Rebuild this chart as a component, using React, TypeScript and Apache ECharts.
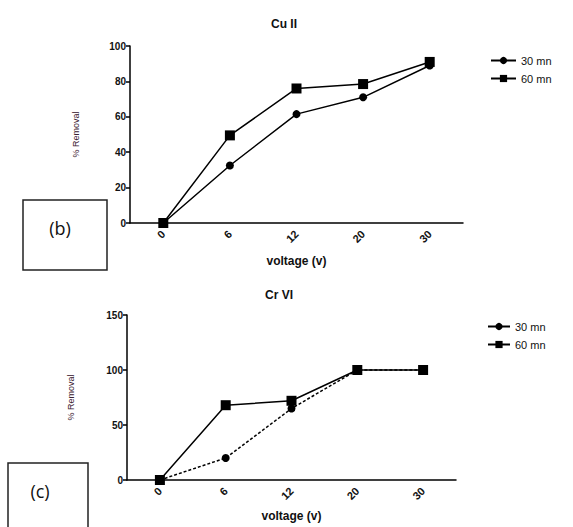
import React, { useEffect, useRef } from "react";
import * as echarts from "echarts";

const categories = ["0", "6", "12", "20", "30"];
const cu30 = [0, 32.5, 61.5, 71, 89];
const cu60 = [0, 49.5, 76, 78.5, 91];
const cr30 = [0, 20, 65, 100, 100];
const cr60 = [0, 68, 72, 100, 100];
const cuTicks = [0, 20, 40, 60, 80, 100];
const crTicks = [0, 50, 100, 150];
const seriesNames = ["30 mn", "60 mn"];

const FONT = "Liberation Sans, Arial, sans-serif";

export default function App() {
  const ref = useRef<HTMLDivElement>(null);
  useEffect(() => {
    if (!ref.current) return;
    const chart = echarts.init(ref.current, undefined, { renderer: "svg" });
    const xAxisBase = (gridIndex: number, nameGap: number) => ({
      type: "category",
      gridIndex,
      data: categories,
      boundaryGap: true,
      name: "voltage (v)",
      nameLocation: "middle",
      nameGap,
      nameTextStyle: { fontFamily: FONT, fontWeight: "bold", fontSize: 12, color: "#111" },
      axisLine: { lineStyle: { color: "#000", width: 1.5 } },
      axisTick: { alignWithLabel: true, length: 5, lineStyle: { color: "#000", width: 1.5 } },
      axisLabel: { rotate: 45, margin: 9, fontFamily: FONT, fontWeight: "bold", fontSize: 11, color: "#111" },
      splitLine: { show: false },
    });
    const yAxisBase = (gridIndex: number, ticks: number[], nameGap: number) => ({
      type: "value",
      gridIndex,
      min: ticks[0],
      max: ticks[ticks.length - 1],
      interval: ticks[1] - ticks[0],
      name: "% Removal",
      nameLocation: "middle",
      nameGap,
      nameRotate: 90,
      nameTextStyle: { fontFamily: FONT, fontSize: 9, color: "#3a2030" },
      axisLine: { show: true, lineStyle: { color: "#000", width: 1.5 } },
      axisTick: { show: true, length: 4, lineStyle: { color: "#000", width: 1.5 } },
      axisLabel: { margin: 4, fontFamily: FONT, fontWeight: "bold", fontSize: 10, color: "#111" },
      splitLine: { show: false },
    });
    const line = (name: string, data: number[], idx: number, symbol: string, size: number, dashed = false) => ({
      type: "line",
      name,
      xAxisIndex: idx,
      yAxisIndex: idx,
      data,
      symbol,
      symbolSize: size,
      itemStyle: { color: "#000" },
      lineStyle: { color: "#000", width: 1.5, type: dashed ? [3, 2] : "solid" },
    });
    chart.setOption({
      animation: false,
      backgroundColor: "#fff",
      title: [
        { text: "Cu II", left: 279, top: 13, textAlign: "center", textStyle: { fontFamily: FONT, fontWeight: "bold", fontSize: 12, color: "#111" } },
        { text: "Cr VI", left: 274, top: 284, textAlign: "center", textStyle: { fontFamily: FONT, fontWeight: "bold", fontSize: 12, color: "#111" } },
      ],
      legend: [
        {
          data: seriesNames,
          orient: "vertical",
          left: 485,
          top: 50,
          itemWidth: 25,
          itemHeight: 9,
          itemGap: 7,
          textStyle: { fontFamily: FONT, fontSize: 11, color: "#111" },
        },
        {
          data: seriesNames,
          orient: "vertical",
          left: 482,
          top: 316,
          itemWidth: 22,
          itemHeight: 9,
          itemGap: 7,
          textStyle: { fontFamily: FONT, fontSize: 11, color: "#111" },
        },
      ],
      grid: [
        { left: 130, top: 46, width: 333, height: 177 },
        { left: 127, top: 315, width: 329, height: 165 },
      ],
      xAxis: [xAxisBase(0, 32), xAxisBase(1, 30)],
      yAxis: [yAxisBase(0, cuTicks, 50), yAxisBase(1, crTicks, 52)],
      series: [
        line(seriesNames[0], cu30, 0, "circle", 8),
        line(seriesNames[1], cu60, 0, "rect", 10),
        line(seriesNames[0], cr30, 1, "circle", 8, true),
        line(seriesNames[1], cr60, 1, "rect", 10),
      ],
      graphic: [
        { type: "rect", shape: { x: 23, y: 200, width: 84, height: 70 }, style: { fill: "none", stroke: "#222", lineWidth: 1.5 } },
        { type: "text", x: 60, y: 228, style: { text: "(b)", font: "18px 'Open Sans', sans-serif", fill: "#111", align: "center", verticalAlign: "middle" } },
        { type: "rect", shape: { x: 8, y: 463, width: 80, height: 80 }, style: { fill: "none", stroke: "#222", lineWidth: 1.5 } },
        { type: "text", x: 40, y: 491, style: { text: "(c)", font: "18px 'Open Sans', sans-serif", fill: "#111", align: "center", verticalAlign: "middle" } },
      ],
    });
    return () => chart.dispose();
  }, []);
  return <div ref={ref} style={{ width: 573, height: 527, position: "absolute", left: 0, top: 0 }} />;
}
